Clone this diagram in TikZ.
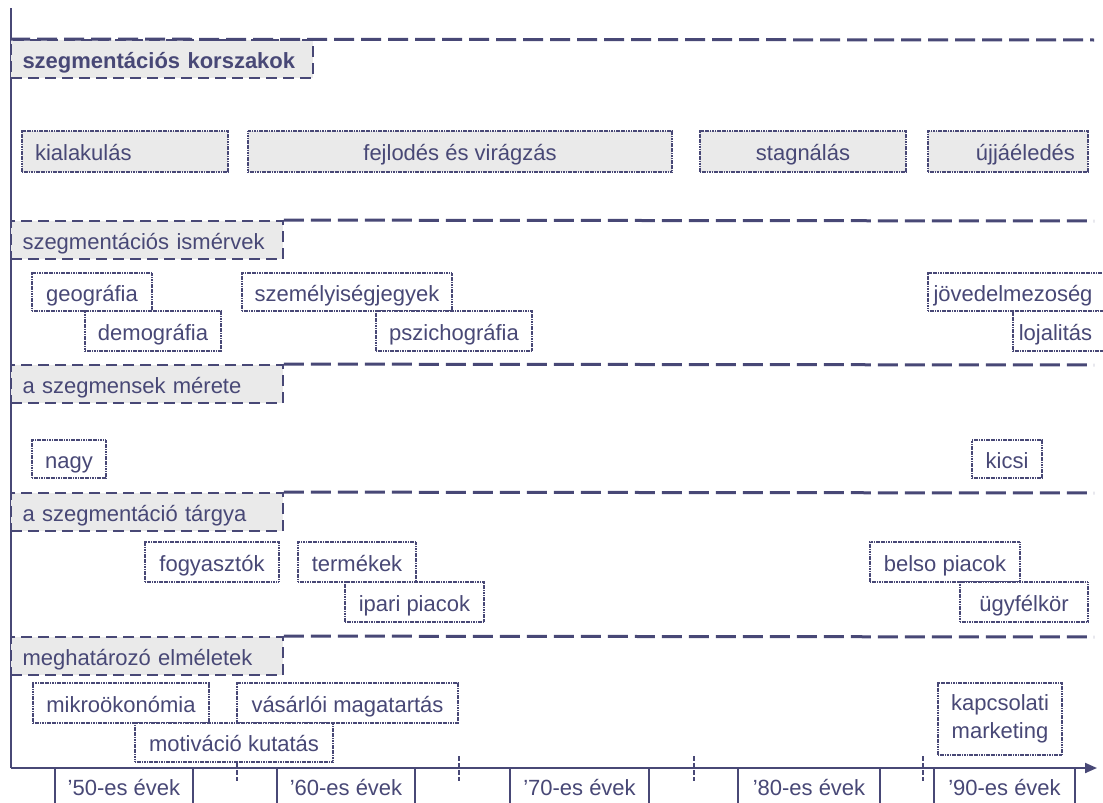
\documentclass[tikz,border=0pt]{standalone}
\usepackage{fontspec}
\setmainfont{Liberation Sans}
\usetikzlibrary{arrows.meta}
\definecolor{navy}{RGB}{72,72,118}
\definecolor{boxgrey}{RGB}{234,234,234}
\newcommand\bx[6]{\node[#1, minimum width={(#5-#3)*1pt}, minimum height={(#6-#4)*1pt}, inner sep=0pt] (#2) at ({(#3+#5)/2},{(#4+#6)/2})}
\begin{document}
\begin{tikzpicture}[x=1pt,y=-1pt, font=\fontsize{22}{25}\selectfont, text=navy,
 every node/.style={text height=21pt, text depth=3pt},
 sepline/.style={draw=navy, line width=3pt, dash pattern=on 20pt off 7pt},
 head/.style={draw=navy, fill=boxgrey, line width=1.8pt, dash pattern=on 11pt off 6pt, text width=249pt, align=left},
 era/.style={draw=navy, fill=boxgrey, line width=2.2pt, dash pattern=on 1.2pt off 0.5pt, align=center},
 item/.style={draw=navy, fill=white, line width=2.2pt, dash pattern=on 1.2pt off 0.5pt, align=center},
 decade/.style={draw=navy, fill=white, line width=1.5pt},
 axis/.style={draw=navy, line width=2pt},
 tickline/.style={draw=navy, line width=2pt, dash pattern=on 5pt off 2pt}]
\clip (0,0) rectangle (1103,803);
% axes
\coordinate (ytop) at (11,8);
\coordinate (orig) at (11,768);
\coordinate (xend) at (1097,768);
% decade boxes
\bx{decade}{d50}{55}{768}{193}{805} {’50-es évek};
\bx{decade}{d60}{277}{768}{415}{805} {’60-es évek};
\bx{decade}{d70}{510}{768}{649}{805} {’70-es évek};
\bx{decade}{d80}{738}{768}{880}{805} {’80-es évek};
\bx{decade}{d90}{934}{768}{1075}{805} {’90-es évek};
\draw[axis] (ytop) -- (orig);
\draw[axis, -{Triangle[length=12pt,width=10pt]}] (orig) -- (xend);
% ticks
\foreach \x/\n in {237/a,459/b,694/c,923/d}{
  \coordinate (t\n1) at (\x,756);
  \coordinate (t\n2) at (\x,781);
  \draw[tickline] (t\n1) -- (t\n2);
}
% separators and headers
\coordinate (s1e) at (1094,40);
\coordinate (s2e) at (1094,221);
\coordinate (s3e) at (1094,365);
\coordinate (s4e) at (1094,493);
\coordinate (s5e) at (1094,637);
\bx{head, text width=279pt, font=\fontsize{22}{25}\selectfont\bfseries}{h1}{11}{40}{313}{78} {szegmentációs korszakok};
\bx{head}{h2}{11}{221}{283}{259} {szegmentációs ismérvek};
\bx{head}{h3}{11}{365}{283}{403} {a szegmensek mérete};
\bx{head}{h4}{11}{493}{283}{531} {a szegmentáció tárgya};
\bx{head}{h5}{11}{637}{283}{675} {meghatározó elméletek};
\draw[sepline] (h1.north west) -- (s1e);
\draw[sepline] (h2.north east) -- (s2e);
\draw[sepline] (h3.north east) -- (s3e);
\draw[sepline] (h4.north east) -- (s4e);
\draw[sepline] (h5.north east) -- (s5e);
% eras
\bx{era, text width=180pt, align=left}{e1}{22}{131}{228}{172} {kialakulás};
\bx{era}{e2}{248}{131}{672}{172} {fejlodés és virágzás};
\bx{era}{e3}{700}{131}{906}{172} {stagnálás};
\bx{era, text width=134pt, align=right}{e4}{928}{131}{1088}{172} {újjáéledés};
% criteria
\bx{item}{i1}{32}{273}{152}{311} {geográfia};
\bx{item}{i2}{85}{311}{221}{351} {demográfia};
\bx{item}{i3}{242}{273}{452}{311} {személyiségjegyek};
\bx{item}{i4}{376}{311}{532}{351} {pszichográfia};
\bx{item}{i5}{928}{273}{1110}{311} {\hspace*{-12pt}jövedelmezoség};
\bx{item}{i6}{1013}{311}{1110}{351} {\hspace*{-12pt}lojalitás};
% size
\bx{item}{n1}{32}{440}{106}{478} {nagy};
\bx{item}{n2}{972}{440}{1042}{478} {kicsi};
% object
\bx{item}{o1}{145}{542}{279}{582} {fogyasztók};
\bx{item}{o2}{298}{542}{416}{582} {termékek};
\bx{item}{o3}{345}{582}{484}{622} {ipari piacok};
\bx{item}{o4}{870}{542}{1020}{582} {belso piacok};
\bx{item}{o5}{960}{582}{1088}{622} {ügyfélkör};
% theories
\bx{item}{m1}{33}{683}{209}{723} {mikroökonómia};
\bx{item}{m2}{237}{683}{458}{723} {vásárlói magatartás};
\bx{item}{m3}{135}{723}{333}{762} {motiváció kutatás};
\bx{item, text height={}, text depth={}, font=\fontsize{22}{28}\selectfont}{m4}{938}{683}{1062}{755} {kapcsolati\\marketing};
\end{tikzpicture}
\end{document}
